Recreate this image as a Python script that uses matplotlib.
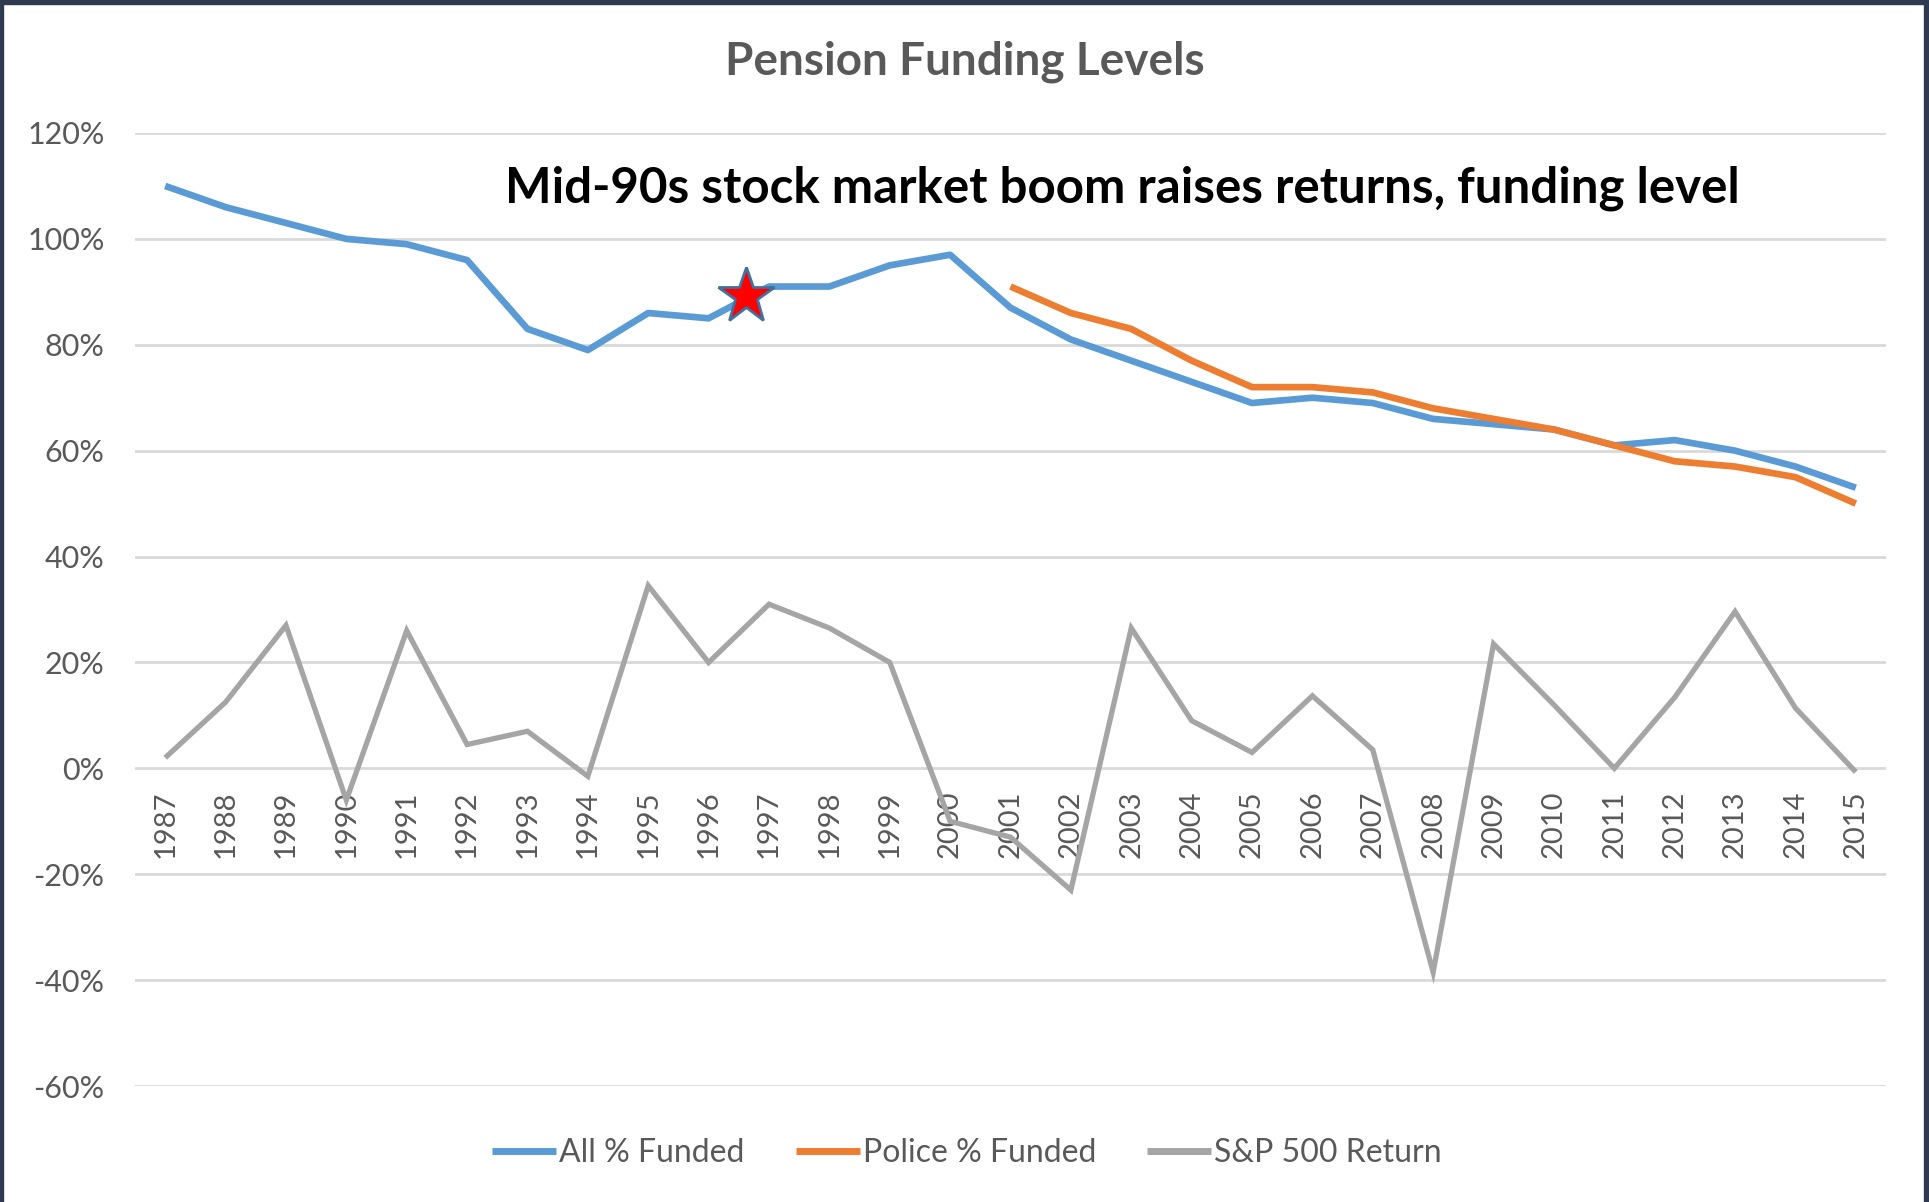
import matplotlib
matplotlib.use('Agg')
import matplotlib.pyplot as plt
from matplotlib.patches import Rectangle
from matplotlib.ticker import FuncFormatter, FixedLocator

# ---------------- data ----------------
years = list(range(1987, 2016))
year_labels = [str(y) for y in years]
all_funded = [110, 106, 103, 100, 99, 96, 83, 79, 86, 85, 91, 91, 95, 97,
              87, 81, 77, 73, 69, 70, 69, 66, 65, 64, 61, 62, 60, 57, 53]
police_years = list(range(2001, 2016))
police_funded = [91, 86, 83, 77, 72, 72, 71, 68, 66, 64, 61, 58, 57, 55, 50]
sp500_return = [2, 12.5, 27, -6, 26, 4.5, 7, -1.5, 34.5, 20, 31, 26.5, 20, -10,
                -13, -23, 26.5, 9, 3, 13.7, 3.5, -38.5, 23.5, 12, 0, 13.4, 29.6, 11.4, -0.7]
y_ticks = [-60, -40, -20, 0, 20, 40, 60, 80, 100, 120]
series_names = ["All % Funded", "Police % Funded", "S&P 500 Return"]
title_text = "Pension Funding Levels"
note_text = "Mid-90s stock market boom raises returns, funding level"
star_year = 1996.62   # star sits between 1996 and 1997
star_value = 89.3

# ---------------- style ----------------
BLUE = "#5b9bd5"
ORANGE = "#ed7d31"
GRAY = "#a5a5a5"
TXT = "#595959"
GRID = "#d9d9d9"
FRAME = "#2e3a4f"
FONT = ["Lato", "DejaVu Sans"]
plt.rcParams['font.family'] = FONT

W, H = 1929, 1202
fig = plt.figure(figsize=(W / 100, H / 100), dpi=100, facecolor="white")

left, right = 135 / W, 1886 / W
top, bottom = 1 - 133 / H, 1 - 1086 / H
ax = fig.add_axes([left, bottom, right - left, top - bottom])
ax.set_facecolor("white")

x_all = [y - years[0] for y in years]
x_pol = [y - years[0] for y in police_years]

ax.plot(x_all, all_funded, color=BLUE, lw=4.8, solid_capstyle='butt',
        solid_joinstyle='round', zorder=3, label=series_names[0])
ax.plot(x_pol, police_funded, color=ORANGE, lw=4.8, solid_capstyle='butt',
        solid_joinstyle='round', zorder=3, label=series_names[1])
ax.plot(x_all, sp500_return, color=GRAY, lw=3.8, solid_capstyle='butt',
        solid_joinstyle='miter', zorder=2.6, label=series_names[2])

ax.plot([star_year - years[0]], [star_value], marker='*', markersize=42,
        markerfacecolor="#ff0000", markeredgecolor="#41719c",
        markeredgewidth=2.0, zorder=5, linestyle='none')

ax.set_xlim(-0.5, len(years) - 0.5)
ax.set_ylim(-60, 120)

for s in ax.spines.values():
    s.set_visible(False)
ax.spines['bottom'].set_position(('data', 0))

ax.yaxis.set_major_locator(FixedLocator(y_ticks))
ax.yaxis.set_major_formatter(FuncFormatter(lambda v, p: f"{int(round(v))}%"))
ax.grid(axis='y', color=GRID, lw=2.0, zorder=0)
ax.set_axisbelow(True)

ax.set_xticks(x_all)
ax.set_xticklabels(year_labels)
ax.tick_params(axis='x', length=0, pad=16, labelsize=21, labelcolor=TXT,
               labelrotation=90)
ax.tick_params(axis='y', length=0, pad=22, labelsize=22, labelcolor=TXT)
for t in ax.get_xticklabels():
    t.set_va('top')
    t.set_ha('center')

# title and annotation
fig.text(965 / W, 1 - 62 / H, title_text, ha='center', va='center',
         fontsize=33, fontweight='bold', color=TXT)
ax.text((1122 - 135) / 1751, (1086 - 188) / 953, note_text, transform=ax.transAxes,
        ha='center', va='center', fontsize=35.5, fontweight='bold', color='black')

# legend
h, l = ax.get_legend_handles_labels()
leg = fig.legend(h, l, loc='center', bbox_to_anchor=(967 / W, 1 - 1153 / H),
                 ncol=3, frameon=False, fontsize=23, handlelength=2.0,
                 handletextpad=0.1, columnspacing=1.6)
for t in leg.get_texts():
    t.set_color(TXT)
for ln in leg.get_lines():
    ln.set_linewidth(5)

# dark screenshot frame
fig.patches.append(Rectangle((0, 1 - 4 / H), 1, 4 / H, transform=fig.transFigure,
                             color=FRAME, zorder=10))
fig.patches.append(Rectangle((0, 0), 3 / W, 1, transform=fig.transFigure,
                             color=FRAME, zorder=10))
fig.patches.append(Rectangle((1 - 5 / W, 0), 5 / W, 1, transform=fig.transFigure,
                             color=FRAME, zorder=10))

fig.savefig("out.png", dpi=100, facecolor="white")
